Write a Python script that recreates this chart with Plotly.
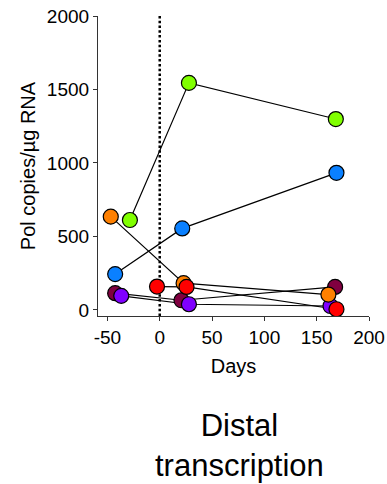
import plotly.graph_objects as go

# Days relative to treatment start, and Pol copies per µg RNA, per subject
days_maroon = [-42.6, 20.8, 167.6]
pol_maroon = [114, 66, 157]
days_purple = [-36.8, 27.9, 163.2]
pol_purple = [96, 39, 27]
days_blue = [-42.6, 21.5, 168.9]
pol_blue = [244, 555, 933]
days_green = [-28.5, 27.9, 168.3]
pol_green = [612, 1545, 1299]
days_orange = [-46.8, 22.8, 161.2]
pol_orange = [635, 182, 105]
days_red = [-2.6, 25.6, 168.9]
pol_red = [159, 157, 5]

series = [
    (days_maroon, pol_maroon, "#800040"),
    (days_purple, pol_purple, "#8000FF"),
    (days_blue, pol_blue, "#0A80FF"),
    (days_green, pol_green, "#80FF00"),
    (days_orange, pol_orange, "#FF8000"),
    (days_red, pol_red, "#FF0000"),
]

x_ticks = [-50, 0, 50, 100, 150, 200]
x_tick_labels = ["-50", "0", "50", "100", "150", "200"]
y_ticks = [0, 500, 1000, 1500, 2000]

fig = go.Figure()

# connecting lines underneath all markers
for xs, ys, col in series:
    fig.add_trace(go.Scatter(x=xs, y=ys, mode="lines",
                             line=dict(color="black", width=1.2),
                             showlegend=False, hoverinfo="skip"))
for xs, ys, col in series:
    fig.add_trace(go.Scatter(x=xs, y=ys, mode="markers",
                             marker=dict(size=15, color=col,
                                         line=dict(color="black", width=1.2)),
                             showlegend=False))

# treatment start marker
fig.add_shape(type="line", xref="x", yref="paper", x0=0, x1=0, y0=0, y1=1,
              line=dict(color="black", width=2.5, dash="2.5px,2.3px"), layer="below")

font = "Liberation Sans, Arial, sans-serif"
fig.update_layout(
    width=387, height=484,
    margin=dict(l=98, r=18, t=16, b=168),
    plot_bgcolor="white", paper_bgcolor="white",
    font=dict(family=font, size=19, color="black"),
    xaxis=dict(range=[-59, 200], tickvals=x_ticks, ticktext=x_tick_labels,
               showgrid=False, zeroline=False, automargin=False,
               showline=True, linecolor="#333", linewidth=1.2,
               ticks="outside", ticklen=4, tickcolor="#333",
               title=dict(text="Days", font=dict(size=20), standoff=12)),
    yaxis=dict(range=[-41, 2000], tickvals=y_ticks, showgrid=False, zeroline=False,
               automargin=False,
               showline=True, linecolor="#333", linewidth=1.2,
               ticks="outside", ticklen=4, tickcolor="#333",
               title=dict(text="Pol copies/µg RNA", font=dict(size=20), standoff=5)),
    annotations=[dict(text="Distal<br>transcription", xref="paper", yref="paper",
                      x=0.522, y=-0.43, xanchor="center", yanchor="middle",
                      showarrow=False, font=dict(size=31, family=font))],
)

fig.write_html("out.html")
